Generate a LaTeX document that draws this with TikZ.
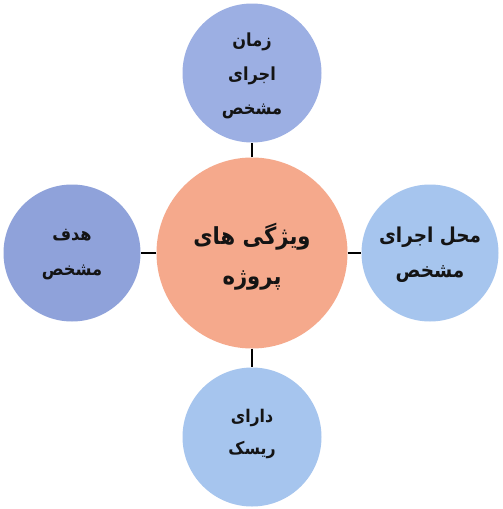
\documentclass[tikz,border=0pt]{standalone}
\usepackage{fontspec}
\newfontfamily\arabicfont[Script=Arabic,FakeStretch=0.9]{DejaVu Sans}
\TeXXeTstate=1
\definecolor{topblue}{HTML}{9CAFE3}
\definecolor{leftblue}{HTML}{8FA2DA}
\definecolor{skyblue}{HTML}{A6C5EE}
\definecolor{salmon}{HTML}{F5A98C}
\tikzset{
  disc/.style={circle, inner sep=0pt, minimum size=139pt},
  words/.style={align=center, inner sep=0pt, text=black!92},
  link/.style={line width=1.4pt, black}
}
\begin{document}
\begin{tikzpicture}[x=1pt,y=-1pt]
\useasboundingbox (0,0) rectangle (503,509);
\fill[white] (0,0) rectangle (503,509);
\node[disc, minimum size=191pt, fill=salmon] (c) at (252,253) {};
\node[disc, fill=topblue] (t) at (252,73) {};
\node[disc, fill=leftblue, minimum size=137pt] (l) at (72,253) {};
\node[disc, fill=skyblue, minimum size=137pt] (r) at (430,253) {};
\node[disc, fill=skyblue] (b) at (252,437) {};
\draw[link] (c) -- (t);
\draw[link] (c) -- (l);
\draw[link] (c) -- (r);
\draw[link] (c) -- (b);
\node[words, font=\arabicfont\bfseries\fontsize{23.5}{40}\selectfont] (ct) at ([yshift=-4pt]c.center) {\beginR ویژگی های\endR\\\beginR پروژه\endR};
\node[words, font=\arabicfont\bfseries\fontsize{18}{34}\selectfont] (tt) at ([yshift=-3pt]t.center) {\beginR زمان\endR\\\beginR اجرای\endR\\\beginR مشخص\endR};
\node[words, font=\arabicfont\bfseries\fontsize{18}{35}\selectfont] (lt) at ([yshift=-2pt]l.center) {\beginR هدف\endR\\\beginR مشخص\endR};
\node[words, font=\arabicfont\bfseries\fontsize{20.5}{35}\selectfont] (rt) at ([yshift=-2pt]r.center) {\beginR محل اجرای\endR\\\beginR مشخص\endR};
\node[words, font=\arabicfont\bfseries\fontsize{17.5}{32}\selectfont] (bt) at ([yshift=3pt]b.center) {\beginR دارای\endR\\\beginR ریسک\endR};
\end{tikzpicture}
\end{document}
